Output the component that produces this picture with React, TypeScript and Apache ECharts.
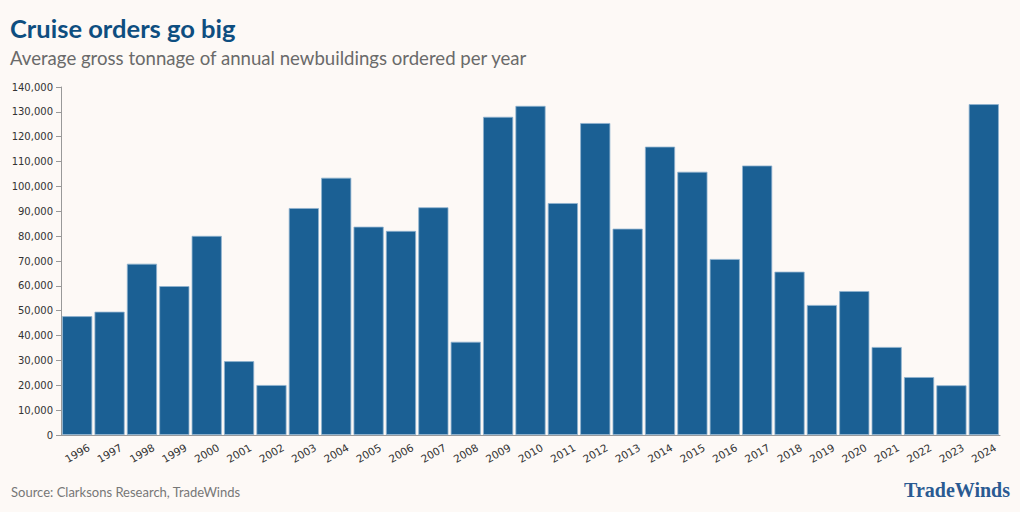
import React, { useEffect, useRef } from "react";
import * as echarts from "echarts";

const years = ["1996","1997","1998","1999","2000","2001","2002","2003","2004","2005","2006","2007","2008","2009","2010","2011","2012","2013","2014","2015","2016","2017","2018","2019","2020","2021","2022","2023","2024"];
const avgTonnage = [47800,49600,68900,59900,80100,29700,20100,91300,103500,83800,82100,91600,37500,128000,132400,93300,125500,83000,116000,105900,70800,108400,65700,52300,57900,35400,23300,20000,133100];

const titleText = "Cruise orders go big";
const subtitleText = "Average gross tonnage of annual newbuildings ordered per year";
const sourceText = "Source: Clarksons Research, TradeWinds";
const logoText = "TradeWinds";

export default function App() {
  const ref = useRef<HTMLDivElement>(null);
  useEffect(() => {
    document.body.style.margin = "0";
    document.body.style.background = "#fdf9f6";
    const chart = echarts.init(ref.current!, null, { renderer: "svg" });
    chart.setOption({
      animation: false,
      backgroundColor: "#fdf9f6",
      title: [
        {
          text: titleText,
          left: 5,
          top: 10,
          textStyle: { fontFamily: "Lato", fontWeight: "bold", fontSize: 25.5, color: "#0e4e80" },
        },
        {
          text: subtitleText,
          left: 5,
          top: 43,
          textStyle: { fontFamily: "Lato", fontWeight: "normal", fontSize: 18.6, color: "#6a6a6a" },
        },
      ],
      grid: { left: 61, right: 20, top: 87, bottom: 77, containLabel: false },
      xAxis: {
        type: "category",
        data: years,
        axisLine: { lineStyle: { color: "#999999", width: 1 } },
        axisTick: { alignWithLabel: true, lineStyle: { color: "#999999" }, length: 5 },
        axisLabel: {
          rotate: 30,
          align: "center",
          verticalAlign: "middle",
          fontFamily: "DejaVu Sans",
          fontSize: 10.5,
          color: "#333333",
          margin: 18,
          interval: 0,
        },
      },
      yAxis: {
        type: "value",
        min: 0,
        max: 140000,
        interval: 10000,
        axisLine: { show: true, lineStyle: { color: "#999999", width: 1 } },
        axisTick: { show: true, lineStyle: { color: "#999999" }, length: 5 },
        splitLine: { show: false },
        axisLabel: {
          fontFamily: "DejaVu Sans",
          fontSize: 10,
          color: "#333333",
          margin: 8,
          formatter: (v: number) => v.toLocaleString("en-US"),
        },
      },
      series: [
        {
          type: "bar",
          data: avgTonnage,
          barCategoryGap: "7%",
          itemStyle: { color: "#1b6094", borderColor: "#8fb3cf", borderWidth: 0.8 },
        },
      ],
      graphic: [
        {
          type: "text",
          left: 11,
          top: 485,
          style: { text: sourceText, fontFamily: "Lato", fontSize: 13, fill: "#777777" },
        },
        {
          type: "text",
          right: 10,
          top: 480,
          style: {
            text: logoText,
            fontFamily: "Liberation Serif",
            fontWeight: "bold",
            fontSize: 20,
            fill: "#2a5a92",
          },
        },
      ],
    });
    return () => chart.dispose();
  }, []);
  return <div ref={ref} style={{ width: 1020, height: 512 }} />;
}
